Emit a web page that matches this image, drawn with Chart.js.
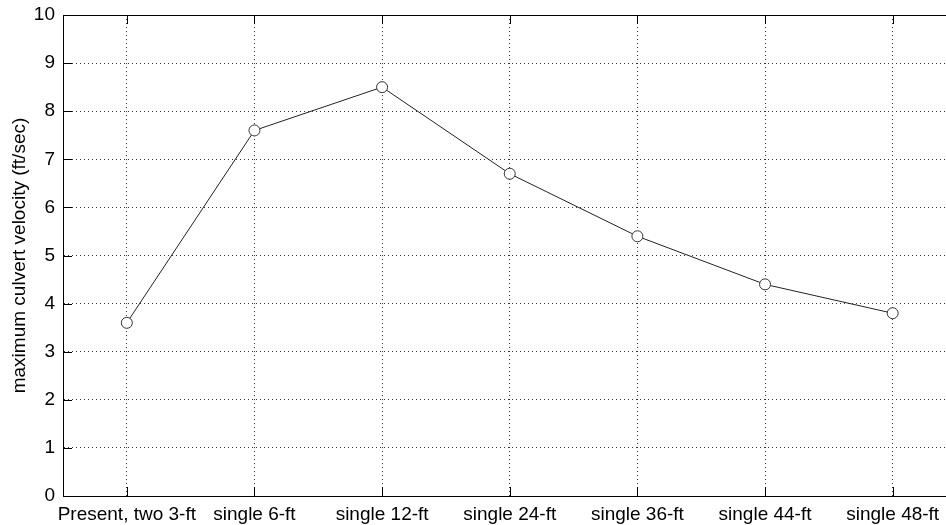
<!DOCTYPE html>
<html>
<head>
<meta charset="utf-8">
<script src="https://cdn.jsdelivr.net/npm/chart.js@4.4.1/dist/chart.umd.min.js"></script>
<style>
html, body { margin:0; padding:0; background:#fff; overflow:hidden; }
#wrap { width:946px; height:525px; overflow:hidden; }
</style>
</head>
<body>
<div id="wrap"><canvas id="chartV" width="963" height="525"></canvas></div>
<script>
var culverts = ["Present, two 3-ft", "single 6-ft", "single 12-ft", "single 24-ft", "single 36-ft", "single 44-ft", "single 48-ft"];
var maxVelocity = [3.6, 7.6, 8.5, 6.7, 5.4, 4.4, 3.8];
var yTicks = [0, 1, 2, 3, 4, 5, 6, 7, 8, 9, 10];
var yTitle = "maximum culvert velocity (ft/sec)";

// matlab style box + inward ticks
var boxTicks = {
    id: "boxTicks",
    afterDatasetsDraw: function(chart) {
        var c = chart.ctx, a = chart.chartArea;
        var xs = chart.scales.x, ys = chart.scales.y;
        var tl = 9;
        c.save();
        c.strokeStyle = "#000";
        c.lineWidth = 1;
        c.beginPath();
        c.moveTo(a.left + 0.5, a.bottom + 0.5);
        c.lineTo(a.left + 0.5, a.top + 0.5);
        c.lineTo(a.right + 0.5, a.top + 0.5);
        c.lineTo(a.right + 0.5, a.bottom + 0.5);
        c.stroke();
        c.beginPath();
        for (var i = 0; i < xs.ticks.length; i++) {
            var px = Math.round(xs.getPixelForTick(i)) + 0.5;
            c.moveTo(px, a.bottom); c.lineTo(px, a.bottom - tl);
            c.moveTo(px, a.top); c.lineTo(px, a.top + tl);
        }
        for (var j = 0; j < ys.ticks.length; j++) {
            var py = Math.round(ys.getPixelForTick(j)) + 0.5;
            c.moveTo(a.left, py); c.lineTo(a.left + tl, py);
        }
        c.stroke();
        c.restore();
    }
};

var ctx = document.getElementById("chartV");
var chartV = new Chart(ctx, {
    type: "line",
    data: {
        labels: culverts,
        datasets: [{
            label: "max velocity",
            data: maxVelocity,
            borderColor: "#222",
            borderWidth: 1,
            backgroundColor: "#fff",
            pointBackgroundColor: "#fff",
            pointBorderColor: "#333",
            pointBorderWidth: 1,
            pointRadius: 5.5,
            tension: 0
        }]
    },
    options: {
        responsive: false,
        animation: false,
        devicePixelRatio: 1,
        layout: { padding: { top: 15, right: 0, bottom: 0, left: 0 } },
        plugins: { legend: { display: false }, tooltip: { enabled: false } },
        scales: {
            x: {
                offset: true,
                grid: { offset: false, drawTicks: false, color: "#333", lineWidth: 1 },
                border: { display: true, color: "#000", width: 1, dash: [1, 3] },
                ticks: { color: "#000", padding: 7, maxRotation: 0, autoSkip: false, font: { family: "Liberation Sans, Arial, sans-serif", size: 19 } },
                afterFit: function(s) { s.height = 29; }
            },
            y: {
                min: 0,
                max: 10,
                afterBuildTicks: function(s) { s.ticks = yTicks.map(function(v) { return { value: v }; }); },
                grid: { drawTicks: false, color: "#333", lineWidth: 1 },
                border: { display: true, color: "#000", width: 1, dash: [1, 3] },
                ticks: { color: "#000", padding: 8, font: { family: "Liberation Sans, Arial, sans-serif", size: 19, lineHeight: 0.6 } },
                title: { display: true, text: yTitle, color: "#000", padding: { top: 8, bottom: 0 }, font: { family: "Liberation Sans, Arial, sans-serif", size: 19 } },
                afterFit: function(s) { s.width = 63; }
            }
        }
    },
    plugins: [boxTicks]
});
</script>
</body>
</html>
